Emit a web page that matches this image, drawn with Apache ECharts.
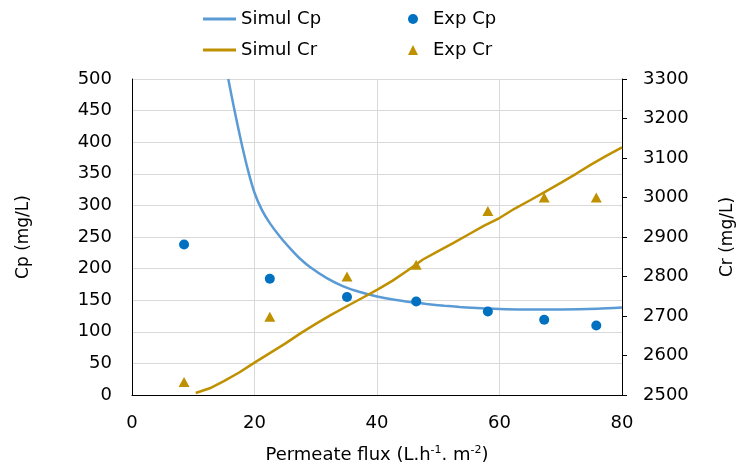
<!DOCTYPE html>
<html>
<head>
<meta charset="utf-8">
<script src="https://cdn.jsdelivr.net/npm/echarts@6/dist/echarts.min.js"></script>
<style>html,body{margin:0;padding:0;background:#fff;}#c{width:740px;height:472px;}</style>
</head>
<body>
<div id="c"></div>
<script>
// Experimental points
const expFlux = [8.5, 22.5, 35.1, 46.4, 58.1, 67.3, 75.8];
const expCp = [238, 184, 155, 148, 132, 119, 110];
const expCr = [2533, 2698, 2800, 2830, 2966, 3000, 3000];

// Simulated Cp curve
const simCpFlux = [15.72, 16.7, 17.8, 18.9, 20, 21.2, 22.5, 24.2, 26, 27.4, 29, 31.8, 34.5, 37.2, 40, 42.6, 45, 48.1, 51, 53.5, 57, 61, 65, 70, 76, 80];
const simCpVal = [500, 452, 402, 357, 320, 293, 272, 250, 230, 216, 203, 185, 172, 163, 156, 151, 147.5, 144, 141.3, 139.4, 137.3, 135.8, 135.2, 135.3, 136.5, 138.5];

// Simulated Cr curve
const simCrFlux = [10.4, 12.7, 15, 17.5, 20, 22.5, 25, 27.5, 30, 32.5, 35, 37.5, 40, 42.5, 45, 47.5, 50, 52.5, 55, 57.5, 60, 62.5, 65, 67.5, 70, 72.5, 75, 77.5, 80];
const simCrVal = [2505, 2517, 2535, 2557, 2582, 2606, 2630, 2656, 2680, 2703, 2724, 2745, 2766, 2789, 2815, 2843, 2864, 2885, 2907, 2929, 2948, 2972, 2993, 3015, 3037, 3060, 3084, 3106, 3127];

const FONT = 'DejaVu Sans';
const FS = 18;
const zip = (a, b) => a.map((v, i) => [v, b[i]]);
const LINE_ICON = 'path://M0,0H33V3H0Z';

const chart = echarts.init(document.getElementById('c'), null, {renderer: 'canvas'});
chart.setOption({
  backgroundColor: '#fff',
  animation: false,
  textStyle: {fontFamily: FONT, color: '#000'},
  grid: {left: 132, right: 118, top: 79, bottom: 77, containLabel: false, outerBoundsMode: 'none'},
  legend: [
    {orient: 'vertical', left: 198, top: 4, itemWidth: 33, itemHeight: 3, itemGap: 11,
     data: [{name: 'Simul Cp', icon: LINE_ICON}, {name: 'Simul Cr', icon: LINE_ICON}],
     textStyle: {fontSize: FS, fontFamily: FONT, color: '#000', lineHeight: 20}},
    {orient: 'vertical', left: 403, top: 4, itemWidth: 10, itemHeight: 10, itemGap: 11,
     data: [{name: 'Exp Cp', icon: 'circle'}, {name: 'Exp Cr', icon: 'triangle'}],
     textStyle: {fontSize: FS, fontFamily: FONT, color: '#000', lineHeight: 20, padding: [0, 0, 0, 10]}}
  ],
  xAxis: {
    type: 'value', min: 0, max: 80, interval: 20,
    name: '{a|Permeate flux (L.h}{s|-1}{a|. m}{s|-2}{a|)}',
    nameLocation: 'middle', nameGap: 50,
    nameTextStyle: {fontSize: FS, color: '#000', rich: {
      a: {fontSize: FS, fontFamily: FONT, color: '#000'},
      s: {fontSize: 11, fontFamily: FONT, color: '#000', padding: [0, 0, 9, 0]}
    }},
    axisLine: {show: true, lineStyle: {color: '#000', width: 1}},
    axisTick: {show: false},
    axisLabel: {fontSize: FS, color: '#000', margin: 19, fontFamily: FONT},
    splitLine: {show: true, lineStyle: {color: '#d9d9d9', width: 1}}
  },
  yAxis: [
    {type: 'value', min: 0, max: 500, interval: 50, position: 'left',
     name: 'Cp (mg/L)', nameLocation: 'middle', nameGap: 100, nameRotate: 90,
     nameTextStyle: {fontSize: 17, color: '#000', fontFamily: FONT},
     axisLine: {show: true, lineStyle: {color: '#000', width: 1}},
     axisTick: {show: false},
     axisLabel: {fontSize: FS, color: '#000', margin: 20, fontFamily: FONT},
     splitLine: {show: true, lineStyle: {color: '#d9d9d9', width: 1}}},
    {type: 'value', min: 2500, max: 3300, interval: 100, position: 'right',
     name: 'Cr (mg/L)', nameLocation: 'middle', nameGap: 97, nameRotate: 90,
     nameTextStyle: {fontSize: 17, color: '#000', fontFamily: FONT},
     axisLine: {show: true, lineStyle: {color: '#000', width: 1}},
     axisTick: {show: true, inside: false, length: 5, lineStyle: {color: '#000'}},
     axisLabel: {fontSize: FS, color: '#000', margin: 21, fontFamily: FONT,
                 formatter: v => String(v)},
     splitLine: {show: false}}
  ],
  series: [
    {name: 'Simul Cp', type: 'line', yAxisIndex: 0, data: zip(simCpFlux, simCpVal),
     smooth: 0.3, symbol: 'none', showSymbol: false,
     lineStyle: {color: '#5B9BD5', width: 2.5}, itemStyle: {color: '#5B9BD5'}, z: 3},
    {name: 'Simul Cr', type: 'line', yAxisIndex: 1, data: zip(simCrFlux, simCrVal),
     smooth: false, symbol: 'none', showSymbol: false,
     lineStyle: {color: '#BF9000', width: 2.5}, itemStyle: {color: '#BF9000'}, z: 3},
    {name: 'Exp Cp', type: 'scatter', yAxisIndex: 0, data: zip(expFlux, expCp),
     symbol: 'circle', symbolSize: 10, itemStyle: {color: '#0070C0', opacity: 1}, z: 4},
    {name: 'Exp Cr', type: 'scatter', yAxisIndex: 1, data: zip(expFlux, expCr),
     symbol: 'triangle', symbolSize: [11, 10], itemStyle: {color: '#BF9000', opacity: 1}, z: 4}
  ]
});
</script>
</body>
</html>
